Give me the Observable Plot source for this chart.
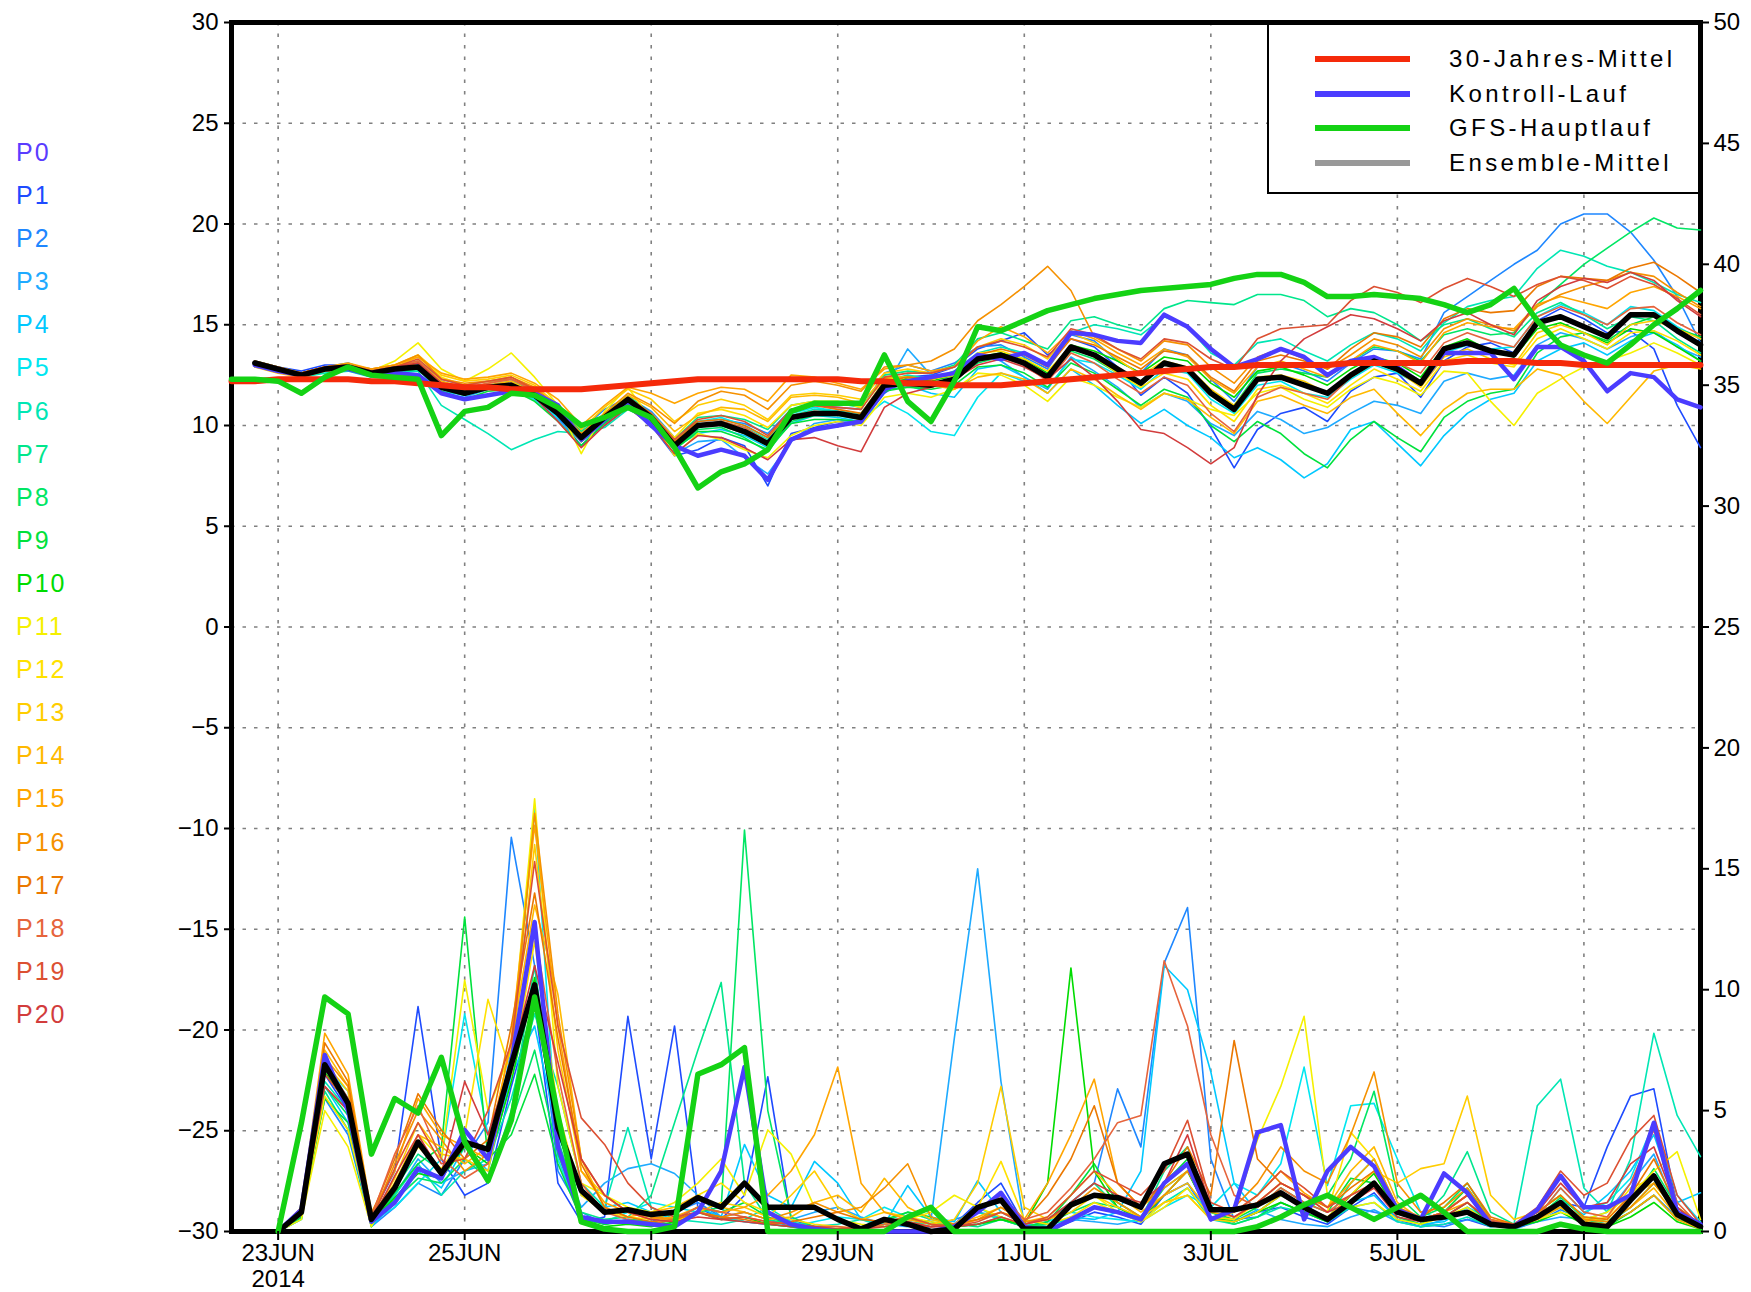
<!DOCTYPE html>
<html><head><meta charset="utf-8">
<script src="https://cdn.jsdelivr.net/npm/d3@7"></script>
<script src="https://cdn.jsdelivr.net/npm/@observablehq/plot@0.6"></script>
<style>
body{margin:0;background:#fff;}
#wrap{position:relative;width:1751px;height:1292px;overflow:hidden;font-family:"Liberation Sans",Arial,sans-serif;background:#fff;}
#plabels{position:absolute;left:16px;top:131px;}
#plabels div{height:43.1px;line-height:43.1px;font-size:25px;letter-spacing:2px;}
#legend{position:absolute;left:1267px;top:23px;width:431px;height:171px;border:2px solid #000;border-right:none;background:#fff;box-sizing:border-box;}
#legend .row{position:absolute;left:0;height:30px;}
#legend .sw{position:absolute;left:46px;width:95px;height:6px;top:12px;}
#legend .tx{position:absolute;left:180px;top:0;line-height:30px;font-size:24px;letter-spacing:3.4px;white-space:nowrap;color:#000;}
</style></head>
<body>
<div id="wrap"><div id="chart"></div><div id="plabels"></div><div id="legend"></div></div>
<script>
// ---------- axis ticks ----------
const xTickDays = [0, 2, 4, 6, 8, 10, 12, 14];
const xTickLabels = ["23JUN\n2014", "25JUN", "27JUN", "29JUN", "1JUL", "3JUL", "5JUL", "7JUL"];
const leftTicks = [-30, -25, -20, -15, -10, -5, 0, 5, 10, 15, 20, 25, 30];
const gridYTicks = [-25, -20, -15, -10, -5, 0, 5, 10, 15, 20, 25];
const rightTicks = [0, 5, 10, 15, 20, 25, 30, 35, 40, 45, 50];

// ---------- legend ----------
const legendLabels = ["30-Jahres-Mittel", "Kontroll-Lauf", "GFS-Hauptlauf", "Ensemble-Mittel"];
const legendColors = ["#f52a0a", "#4b3cff", "#14d214", "#999999"];

// ---------- members ----------
const memberNames = ["P1","P2","P3","P4","P5","P6","P7","P8","P9","P10","P11","P12","P13","P14","P15","P16","P17","P18","P19","P20"];
const memberColors = ["#1e4bff","#1e87ff","#1eaaff","#00c8ff","#00e6f0","#00e6b4","#00e68c","#00e664","#00e13c","#00dc00",
  "#f5f000","#ffe100","#ffcd00","#ffb900","#ffa500","#f59100","#eb7800","#e6643c","#dc5032","#d23c3c"];
const labelNames = ["P0", ...memberNames];
const labelColors = ["#5a3cff", ...memberColors];

// ---------- temperature (6-hourly) ----------
// climatology and GFS main run: from 22JUN 12z
const climTemp = [
  12.2,12.2,12.3,12.3,12.3,12.3,12.2,12.2,
  12.1,12.0,11.9,11.9,11.8,11.8,11.8,11.8,
  11.9,12.0,12.1,12.2,12.3,12.3,12.3,12.3,
  12.3,12.3,12.3,12.2,12.2,12.1,12.1,12.0,
  12.0,12.0,12.1,12.2,12.3,12.4,12.5,12.6,
  12.7,12.8,12.9,12.9,13.0,13.0,13.0,13.0,
  13.1,13.1,13.1,13.1,13.1,13.2,13.2,13.2,
  13.1,13.1,13.0,13.0,13.0,13.0,13.0,13.0];
const gfsTemp = [
  12.3,12.3,12.2,11.6,12.4,12.9,12.5,12.4,
  12.3,9.5,10.7,10.9,11.6,11.5,10.9,10.0,
  10.4,10.9,10.4,8.9,6.9,7.7,8.1,8.8,
  10.7,11.1,11.1,11.1,13.5,11.2,10.2,12.2,
  14.9,14.7,15.2,15.7,16.0,16.3,16.5,16.7,
  16.8,16.9,17.0,17.3,17.5,17.5,17.1,16.4,
  16.4,16.5,16.4,16.3,16.0,15.6,16.0,16.8,
  15.2,14.0,13.5,13.1,14.0,15.0,15.8,16.7];
// ensemble mean, control and members: from 22JUN 18z
const meanTemp = [
  13.1,12.8,12.5,12.8,12.9,12.6,12.8,12.9,
  11.9,11.6,11.9,12.0,11.5,10.6,9.4,10.4,
  11.3,10.4,9.0,10.0,10.1,9.7,9.1,10.4,
  10.6,10.6,10.4,12.0,12.1,12.0,12.3,13.3,
  13.5,13.1,12.4,13.9,13.5,12.8,12.1,13.1,
  12.8,11.6,10.8,12.3,12.4,12.0,11.6,12.5,
  13.2,12.8,12.1,13.8,14.1,13.7,13.5,15.1,
  15.4,14.9,14.4,15.5,15.5,14.7,14.0];
const ctrlTemp = [
  13.0,12.7,12.5,12.8,12.8,12.5,12.6,12.5,
  11.6,11.3,11.5,11.7,11.6,11.0,9.3,10.3,
  11.1,10.0,9.0,8.5,8.8,8.5,7.3,9.3,
  9.8,10.0,10.2,11.8,12.2,12.4,12.6,13.5,
  13.3,13.6,13.0,14.6,14.5,14.2,14.1,15.5,
  14.9,13.8,12.9,13.3,13.8,13.4,12.5,13.2,
  13.4,12.9,12.1,13.6,13.6,13.6,12.3,13.9,
  13.9,13.2,11.7,12.6,12.4,11.3,10.9];
const memberTemp = [
 [13.2,12.9,12.7,13.0,13.0,12.8,12.9,13.0, 12.2,11.8,12.0,12.1,11.6,10.4,9.0,10.1, 11.0,10.0,8.5,8.8,9.4,9.0,7.0,9.6, 9.9,10.2,10.1,11.6,12.4,12.5,12.9,13.8, 14.2,14.6,13.5,14.3,13.9,12.9,11.5,12.4, 11.6,9.9,7.9,9.8,10.6,10.9,10.2,11.7, 12.4,12.6,11.4,13.2,13.9,14.1,13.6,15.2, 15.8,15.3,14.6,14.7,13.8,11.0,8.9],
 [13.0,12.8,12.6,12.9,13.1,12.7,12.9,13.2, 12.3,12.0,12.2,12.3,11.8,10.9,9.8,10.8, 11.4,10.7,9.4,10.2,10.3,10.1,9.6,10.8, 11.0,10.9,10.8,12.6,13.0,12.7,13.1,13.9, 14.0,13.4,12.8,14.5,14.2,13.2,12.6,13.8, 13.5,12.3,11.2,12.9,13.1,12.7,12.2,13.1, 13.8,13.7,13.3,15.6,16.4,17.2,18.0,18.7, 20.0,20.5,20.5,19.6,18.2,16.4,14.1],
 [12.9,12.7,12.4,12.7,12.8,12.5,12.6,12.8, 11.6,11.4,11.8,11.9,11.3,10.3,9.2,10.0, 10.9,10.0,8.6,9.2,9.3,8.4,7.6,9.2, 10.1,10.3,10.1,11.8,13.8,12.5,12.2,13.6, 13.2,12.4,11.8,13.4,12.7,11.9,10.9,11.6, 11.2,10.1,9.5,10.7,10.3,9.6,9.9,10.6, 11.2,11.0,10.6,12.2,12.6,12.3,12.5,14.0, 14.6,14.3,13.8,14.4,14.7,13.9,13.4],
 [13.1,12.8,12.6,12.9,12.9,12.6,12.7,12.9, 12.0,11.7,11.9,12.1,11.4,10.5,9.3,10.3, 11.2,10.2,8.9,9.6,9.8,9.5,8.9,10.1, 10.5,10.4,10.2,11.9,12.0,11.6,11.4,12.8, 13.0,12.4,11.6,12.8,12.0,11.0,10.1,10.8, 10.0,9.4,8.4,8.9,8.3,7.4,8.1,9.8, 10.2,9.1,8.0,9.5,10.6,11.3,11.6,13.2, 13.8,14.1,13.5,14.2,14.6,14.0,13.2],
 [13.0,12.7,12.5,12.8,12.8,12.5,12.7,12.8, 11.7,11.5,11.8,11.8,11.3,10.4,9.5,10.5, 11.1,10.5,9.3,10.2,10.4,10.0,9.4,10.6, 10.9,10.7,10.3,11.2,10.6,9.7,9.5,11.4, 12.6,12.2,11.9,13.3,13.1,12.5,11.8,12.8, 12.6,11.3,10.6,12.0,12.2,11.6,11.4,12.3, 13.0,12.6,12.0,13.6,14.0,13.8,13.9,15.4, 16.0,15.6,15.0,15.9,15.7,14.9,14.3],
 [13.0,12.7,12.4,12.6,12.7,12.4,12.6,12.7, 11.0,10.3,9.6,8.8,9.3,9.7,9.6,9.9, 10.8,10.2,9.0,9.9,10.2,9.9,9.3,10.5, 10.8,10.7,10.6,12.2,12.5,12.3,12.7,13.6, 13.9,13.6,13.0,14.6,15.0,14.8,14.5,15.4, 14.9,13.6,13.0,14.1,14.3,13.7,13.2,14.0, 14.6,14.3,13.7,15.1,15.9,16.2,16.4,17.8, 18.7,18.4,17.9,17.6,17.1,16.5,16.1],
 [13.2,12.9,12.6,12.9,13.0,12.7,12.9,13.1, 12.1,11.8,12.0,12.2,11.7,10.9,9.7,10.6, 11.5,10.6,9.3,10.4,10.5,10.3,9.8,11.0, 11.2,11.1,10.9,12.5,12.7,12.6,13.0,14.3, 14.6,14.2,13.8,15.2,15.4,15.0,14.7,15.8, 16.2,16.1,16.0,16.5,16.5,16.2,15.4,15.8, 15.6,15.0,14.2,15.0,15.3,14.8,14.4,15.6, 16.1,15.5,14.8,15.4,15.2,14.3,13.6],
 [13.0,12.7,12.5,12.8,12.9,12.6,12.7,12.8, 11.8,11.5,11.9,12.0,11.4,10.5,9.2,10.2, 11.0,10.2,8.8,9.8,9.9,9.4,8.7,10.2, 10.5,10.5,10.3,11.8,11.9,11.9,12.3,13.1, 13.4,13.0,12.3,13.7,13.3,12.6,12.0,13.0, 12.7,11.6,11.0,12.6,12.8,12.6,12.4,13.2, 13.9,13.7,13.2,14.5,14.8,14.5,14.6,16.0, 17.0,18.0,18.8,19.6,20.3,19.8,19.7],
 [13.1,12.8,12.5,12.7,12.8,12.5,12.7,12.8, 11.7,11.3,11.7,11.8,11.2,10.2,9.0,10.1, 11.0,10.1,8.8,9.7,9.7,9.3,8.8,10.1, 10.3,10.3,10.2,11.7,11.9,11.8,12.0,12.9, 13.0,12.6,11.9,13.1,12.6,11.8,11.0,11.8, 11.4,10.0,9.2,10.2,9.6,8.6,7.9,9.3, 10.2,9.4,8.7,10.4,11.2,11.6,11.8,13.6, 14.4,14.6,14.2,15.0,15.4,14.8,14.4],
 [13.1,12.8,12.5,12.8,12.9,12.6,12.8,12.9, 12.0,11.7,11.9,12.0,11.6,10.7,9.5,10.5, 11.3,10.4,9.1,10.1,10.0,9.6,9.0,10.4, 10.6,10.6,10.5,12.1,12.3,12.2,12.5,13.4, 13.6,13.3,12.6,14.0,13.7,13.2,12.6,13.4, 13.2,12.1,11.4,12.7,12.9,12.5,12.0,12.8, 13.4,13.1,12.4,13.9,14.3,13.7,13.4,14.8, 15.1,14.6,14.1,14.8,14.6,13.9,13.2],
 [13.2,12.9,12.6,12.9,13.0,12.7,13.2,14.1, 12.8,12.2,12.8,13.6,12.4,11.0,8.6,10.7, 11.9,10.3,8.5,9.6,9.3,8.8,8.4,9.5, 10.0,10.2,10.0,11.4,11.6,11.4,11.8,12.6, 12.5,12.0,11.2,12.4,12.0,11.4,10.9,11.6, 11.3,10.8,10.5,11.6,11.9,11.3,10.9,11.8, 12.4,12.1,11.5,12.7,12.6,11.2,10.0,11.6, 12.3,12.9,13.2,13.6,14.1,13.6,13.0],
 [13.0,12.7,12.5,12.8,12.9,12.7,12.9,13.4, 12.4,12.0,12.2,12.4,11.8,10.8,9.3,10.4, 11.3,10.6,9.4,10.6,10.8,10.5,9.9,11.0, 11.2,11.2,10.9,12.3,12.4,12.3,12.5,13.6, 13.7,13.3,12.7,13.9,13.4,12.6,11.9,12.6, 12.3,11.0,10.2,11.8,12.0,11.6,11.1,12.0, 12.8,12.3,11.7,13.2,13.5,13.1,12.9,14.3, 14.8,14.3,13.8,14.6,14.7,14.2,13.5],
 [13.1,12.8,12.6,12.9,13.0,12.8,13.0,13.5, 12.5,12.2,12.3,12.5,12.0,11.0,9.8,10.9, 11.8,11.3,10.2,11.0,11.3,11.0,10.3,11.5, 11.6,11.5,11.3,12.6,12.8,12.6,12.9,13.9, 14.3,14.0,13.3,14.6,14.1,13.3,12.5,13.2, 12.9,11.8,11.0,12.4,12.5,12.2,11.6,12.4, 13.1,12.7,11.9,13.4,13.8,13.3,13.0,14.6, 15.0,14.6,14.0,15.0,15.2,14.8,14.3],
 [12.9,12.6,12.4,12.7,12.8,12.6,12.8,13.2, 12.2,11.9,12.0,12.2,11.6,10.6,9.4,10.5, 11.5,10.9,9.7,10.5,10.9,10.8,10.2,11.4, 11.5,11.4,11.1,12.4,12.4,12.0,11.8,12.4, 12.6,12.3,11.6,12.8,12.3,11.5,10.8,11.6, 11.3,10.4,9.6,11.2,11.5,11.0,10.6,11.4, 11.8,10.6,9.5,10.8,11.6,11.8,11.8,12.8, 12.5,11.2,10.1,11.4,12.7,13.0,12.8],
 [13.0,12.8,12.6,12.9,13.1,12.8,13.0,13.4, 12.6,12.3,12.4,12.6,12.1,11.3,10.0,11.0, 11.9,11.6,11.1,11.6,11.9,11.8,11.2,12.5, 12.4,12.1,11.8,12.8,13.0,12.7,12.9,14.2, 14.9,14.4,13.6,14.7,14.3,13.6,13.0,13.8, 13.4,12.3,11.6,12.9,13.2,12.8,12.4,13.2, 14.0,13.7,13.1,14.6,15.1,14.9,14.8,16.0, 16.4,16.1,15.8,16.6,16.9,16.4,15.8],
 [13.1,12.8,12.6,12.9,13.0,12.8,13.0,13.5, 12.3,12.1,12.2,12.4,11.9,10.9,9.6,10.6, 11.6,11.0,10.1,11.2,11.7,11.5,10.8,12.0, 12.2,12.0,11.7,12.9,13.0,13.2,13.8,15.2, 16.0,16.9,17.9,16.7,14.4,13.8,13.2,14.2, 14.0,12.9,12.1,13.4,13.8,13.3,12.8,13.5, 14.3,14.0,13.4,14.8,15.3,15.0,14.7,15.9, 16.5,16.9,17.2,17.6,17.4,16.6,15.9],
 [13.0,12.7,12.5,12.8,12.9,12.6,12.8,13.1, 12.0,11.8,12.1,12.3,11.8,10.8,9.5,10.5, 11.4,10.5,9.2,10.2,10.3,10.0,9.4,10.7, 11.0,10.8,10.6,12.2,12.4,12.3,12.6,13.5, 13.8,13.5,12.9,14.3,14.0,13.4,12.8,13.7, 13.5,12.4,11.7,13.2,13.5,13.2,12.8,13.8, 14.6,14.4,13.9,15.3,15.8,15.6,15.7,16.9, 17.4,17.3,17.2,17.8,18.1,17.4,16.6],
 [13.1,12.8,12.5,12.8,12.9,12.7,12.9,13.2, 12.1,11.9,12.1,12.3,11.7,10.6,9.2,10.3, 11.2,10.4,9.0,10.0,10.2,9.9,9.2,10.5, 10.7,10.6,10.3,11.9,12.0,11.9,12.2,13.2, 13.4,13.0,12.2,13.6,13.1,12.3,11.6,12.4, 12.0,10.6,9.7,11.4,11.9,11.6,11.3,12.4, 13.3,13.1,12.6,14.1,14.6,14.2,13.9,15.4, 15.9,15.5,15.0,15.8,15.9,15.1,14.5],
 [13.0,12.8,12.6,12.9,13.0,12.7,12.9,13.3, 12.3,12.0,12.2,12.4,11.8,10.7,9.3,10.4, 11.4,10.6,9.3,10.3,10.5,10.2,9.5,10.8, 11.0,10.9,10.8,12.4,12.6,12.6,12.9,13.9, 14.2,13.9,13.4,14.8,14.5,13.8,13.3,14.3, 14.1,13.3,12.8,14.3,14.8,14.9,15.0,16.2, 16.9,16.6,16.1,16.8,17.3,16.9,16.4,17.0, 17.4,17.2,16.8,17.4,17.0,16.3,15.5],
 [13.2,12.9,12.6,12.9,13.0,12.7,12.9,13.1, 12.1,11.8,12.0,12.1,11.4,10.2,8.9,10.0, 10.9,10.0,8.6,9.5,9.4,8.9,8.3,9.3, 9.4,9.0,8.7,10.9,11.6,11.9,12.3,13.0, 13.3,12.9,12.3,13.3,12.4,11.2,9.8,9.6, 8.9,8.1,8.9,11.5,13.2,14.3,14.9,15.5, 15.3,14.8,14.2,15.2,15.6,15.0,14.5,16.2, 16.9,17.3,17.1,17.6,17.2,16.2,15.4]
];

// ---------- precipitation (mm / 6h, right axis), from 23JUN 00z ----------
const meanPrecip = [
  0.0,0.8,6.9,5.3,0.5,1.8,3.7,2.4, 3.7,3.4,6.9,10.2,4.3,1.7,0.8,0.9,
  0.7,0.8,1.4,1.0,2.0,1.0,1.0,1.0, 0.5,0.1,0.5,0.3,0.0,0.1,1.0,1.3,
  0.1,0.1,1.1,1.5,1.4,1.0,2.8,3.2, 0.9,0.9,1.1,1.6,1.0,0.5,1.2,2.0,
  0.8,0.5,0.6,0.8,0.3,0.2,0.6,1.2, 0.3,0.2,1.3,2.3,0.7,0.2];
const gfsPrecip = [
  0.0,4.5,9.7,9.0,3.2,5.5,4.9,7.2, 3.7,2.1,4.6,9.7,4.8,0.4,0.1,0.0,
  0.0,0.2,6.5,6.9,7.6,0.0,0.0,0.0, 0.0,0.0,0.0,0.6,1.0,0.0,0.0,0.0,
  0.0,0.0,0.0,0.0,0.0,0.0,0.0,0.0, 0.0,0.0,0.2,0.6,1.1,1.5,1.0,0.5,
  1.0,1.5,0.8,0.0,0.0,0.0,0.0,0.3, 0.1,0.0,0.0,0.0,0.0,0.0];
const ctrlPrecip = [
  0.0,0.9,7.3,5.0,0.4,1.2,2.6,2.2, 4.2,3.0,7.0,12.8,3.5,0.6,0.4,0.4,
  0.3,0.2,0.8,2.5,6.8,0.8,0.3,0.1, 0.0,0.0,0.0,0.0,0.0,0.2,0.8,1.6,
  0.2,0.0,0.5,1.0,0.8,0.5,2.0,2.8, 0.5,0.9,4.1,4.4,0.5,2.5,3.5,2.7,
  0.9,0.5,2.4,1.6,0.3,0.2,0.9,2.3, 1.0,1.0,1.5,4.5,0.8,0.3];
const memberPrecip = [
 [0,0.6,6.5,5.0,0.6,2.5,9.3,3.0, 1.5,2.0,6.0,9.5,2.0,0.4,0.6,8.9, 3.0,8.5,1.0,0.5,1.5,6.4,0.5,0.2, 0,0,0,0,0,0.3,1.2,2.0, 0.3,0,0.4,0.8,0.6,0.3,1.5,2.0, 0.5,0.4,0.8,1.0,0.6,0.3,1.0,1.6, 0.5,0.2,0.3,0.5,0.2,0.3,0.8,1.2, 1.0,3.5,5.6,5.9,1.0,0.2],
 [0,0.9,5.5,4.0,0.2,1.0,2.0,1.5, 3.0,4.5,16.3,11.0,2.5,0.8,0.3,0.5, 0.4,0.8,1.2,0.6,0.8,0.5,0.2,0, 0,0,0,0,0.2,0.5,0.8,0.6, 0.2,0.4,1.2,2.0,5.9,3.5,11.1,13.4, 3.0,0.5,0.6,1.2,0.8,0.4,1.0,0.8, 0.6,0.3,0.2,0.5,0.3,0.1,0.4,0.9, 0.5,0.3,0.8,1.5,0.6,0.1],
 [0,0.7,7.0,5.5,0.3,1.5,3.0,2.0, 2.5,2.8,7.5,10.0,3.5,1.0,2.0,2.6, 2.8,2.4,1.5,0.6,0.4,0.3,0.5,0.8, 1.0,0.6,0.3,0.2,0.5,8.0,15.0,6.2, 0.3,0.1,0.5,0.4,0.3,0.5,1.5,2.0, 0.6,0.4,0.9,0.5,0.3,0.2,0.6,0.9, 0.4,0.2,0.5,0.8,0.3,0.2,0.4,0.6, 0.5,0.8,2.0,3.2,0.8,0.2],
 [0,0.5,6.0,4.5,0.2,1.2,2.5,1.8, 3.5,2.5,6.5,8.5,4.0,1.5,1.0,1.2, 0.8,0.5,1.0,0.6,3.6,1.5,1.0,2.9, 2.0,0.5,0.3,1.9,0.6,0.4,2.1,0.8, 0.3,0.2,0.6,0.5,0.8,2.5,11.0,10.0, 6.6,2.0,0.8,1.5,1.0,0.6,1.2,1.5, 0.5,0.3,0.4,1.0,0.5,0.2,0.6,1.3, 0.7,1.5,2.5,4.0,1.2,1.6],
 [0,0.6,6.8,5.8,0.4,1.0,2.0,3.0, 9.0,4.0,7.0,17.5,3.0,0.5,0.4,0.8, 1.2,1.0,0.8,0.6,0.4,0.3,0.2,0.4, 0.6,0.5,1.0,0.6,0.3,0.2,1.0,0.5, 0.2,0.4,0.8,0.6,0.5,0.4,1.0,1.5, 1.0,2.0,1.5,2.8,6.8,1.9,5.2,5.3, 3.0,0.8,0.5,1.0,0.4,0.3,0.6,1.8, 0.8,1.2,2.2,4.5,1.5,0.4],
 [0,0.8,6.2,5.0,0.3,1.5,2.8,1.5, 2.5,3.0,5.5,9.0,6.0,2.0,1.0,4.3, 1.0,0.5,0.4,0.3,0.5,1.0,0.4,0.2, 0.3,0.5,0.2,0.4,0.3,0.2,0.8,0.5, 0.2,0.3,0.5,1.0,0.8,0.4,1.2,1.8, 0.5,0.3,0.6,1.0,0.8,0.4,1.0,1.2, 0.4,0.2,0.3,0.6,0.2,0.3,5.2,6.3, 1.8,0.8,3.0,8.2,4.8,3.1],
 [0,0.5,5.8,4.2,0.2,1.8,3.2,2.5, 4.0,2.0,5.0,11.0,3.8,0.8,0.5,0.6, 1.5,4.5,7.5,10.3,2.0,0.5,0.3,0.1, 0,0.2,0.4,0.8,0.5,0.3,0.2,0.5, 0.3,0.5,1.2,2.0,1.0,0.5,2.5,3.5, 0.8,0.4,0.8,1.5,1.0,0.5,2.0,3.0, 1.0,0.5,1.5,3.3,0.8,0.3,0.8,1.5, 0.5,0.3,1.0,2.0,0.8,0.3],
 [0,0.7,6.0,4.8,0.5,1.3,2.2,2.0, 3.0,2.2,4.5,7.5,3.2,0.6,0.3,0.5, 0.4,0.3,0.8,1.0,16.6,5.0,0.6,0.2, 0,0.1,0.3,0.5,0.4,0.2,0.3,0.6, 0.2,0.3,0.8,1.2,1.0,0.5,1.8,2.5, 0.6,0.3,0.6,1.2,0.8,1.5,3.0,5.8, 1.5,0.6,1.0,2.0,0.5,0.2,0.6,1.4, 0.6,0.4,1.2,2.6,1.0,0.3],
 [0,0.6,5.5,4.5,0.3,1.6,2.8,3.5, 13.0,3.0,4.0,6.5,2.8,0.5,0.3,0.4, 0.3,0.5,1.0,0.8,1.2,0.6,0.3,0.2, 0,0.2,0.5,0.8,0.6,0.2,0.3,0.5, 0.2,0.4,1.5,2.8,1.2,0.6,2.0,3.0, 0.8,0.5,1.0,1.8,1.2,0.8,2.2,2.0, 0.6,0.3,0.8,1.8,0.4,0.2,0.5,1.0, 0.3,0.2,0.8,1.5,0.5,0.2],
 [0,0.8,6.6,5.2,0.4,1.4,2.4,2.2, 3.5,2.8,6.2,10.5,3.6,0.5,0.2,0.3, 0.2,0.4,0.8,0.5,0.6,0.3,0.2,0.1, 0,0.2,0.4,0.6,0.3,0.2,0.3,0.5, 0.3,2.0,10.9,2.5,1.0,0.5,1.5,2.5, 0.6,0.4,0.8,1.2,0.8,0.4,1.5,2.4, 0.8,0.4,0.6,1.2,0.3,0.2,0.4,0.8, 0.3,0.2,0.6,1.2,0.4,0.1],
 [0,0.5,5.0,3.5,0.2,2.0,4.0,3.0, 10.4,5.0,7.5,17.9,6.0,2.0,1.5,1.0, 0.8,1.2,2.0,3.0,1.5,4.2,3.2,1.0, 0.5,0.3,0.2,0.5,0.8,1.5,1.0,0.6, 0.3,0.5,1.0,1.5,0.8,0.4,1.2,1.5, 0.5,0.8,3.8,6.0,8.9,1.5,1.0,1.2, 0.5,0.3,0.6,1.0,0.3,0.2,0.5,0.8, 0.5,0.8,1.5,2.5,3.3,0.5],
 [0,0.7,5.6,4.2,0.4,1.8,3.5,2.6, 4.0,9.6,6.5,12.0,5.0,1.5,0.8,0.6, 0.5,0.8,1.5,2.0,1.2,0.8,0.5,0.3, 0.2,0.1,0.3,0.6,0.4,0.3,1.0,2.9, 0.5,0.3,0.6,1.2,0.8,0.4,1.0,1.8, 0.6,0.5,1.2,2.0,1.5,0.8,4.1,3.0, 1.0,0.5,0.8,1.5,0.4,0.2,0.6,1.0, 0.4,0.6,1.8,2.2,1.0,0.3],
 [0,0.9,7.0,5.8,0.5,2.2,4.5,3.2, 3.0,2.5,7.0,16.0,7.5,2.5,1.5,0.8, 0.6,0.4,0.8,1.2,1.0,0.6,1.5,2.5, 1.0,0.5,0.8,0.6,0.3,0.5,2.0,6.0, 1.0,0.5,0.8,1.5,1.0,0.6,1.2,1.5, 0.5,0.4,0.8,1.5,1.0,0.6,1.5,2.5, 2.0,2.6,2.8,5.6,1.5,0.5,0.8,1.5, 0.6,0.5,1.5,2.0,0.8,0.3],
 [0,0.8,7.5,6.0,0.6,2.0,4.0,3.5, 2.8,3.5,7.8,13.5,9.8,3.0,1.0,0.6, 0.8,1.0,1.5,1.0,0.8,0.5,0.6,1.2, 1.5,0.8,2.2,1.0,0.5,0.3,0.6,1.0, 0.4,0.6,1.5,2.5,1.5,0.8,1.5,2.0, 0.8,0.6,1.2,2.0,1.5,1.0,2.5,3.5, 1.2,0.5,0.8,1.5,0.5,0.3,0.8,1.2, 0.5,0.4,1.0,1.8,0.6,0.2],
 [0,1.0,8.2,6.5,0.8,2.5,5.5,4.0, 3.5,3.0,8.0,16.8,8.5,2.5,1.2,0.8, 0.5,0.6,1.0,0.8,1.0,1.5,2.5,4.0, 6.8,2.0,0.8,0.5,0.3,0.2,0.5,0.8, 0.5,2.0,4.0,6.3,2.0,1.0,1.8,2.5, 1.0,0.8,1.5,2.5,1.6,1.0,2.0,3.0, 1.0,0.5,0.8,1.2,0.4,0.2,0.5,1.0, 0.4,0.3,0.8,1.5,0.5,0.1],
 [0,0.8,7.2,6.0,0.5,2.8,5.0,3.8, 2.5,3.2,7.2,17.3,9.0,3.0,1.5,0.8, 0.6,0.5,0.8,0.6,0.8,0.5,0.8,1.2, 0.8,1.0,1.8,2.8,0.6,0.3,0.5,1.0, 0.4,0.5,1.0,1.8,1.2,0.6,1.5,2.5, 0.8,1.0,2.0,3.5,2.5,2.0,4.0,6.6, 2.0,0.8,1.0,1.8,0.5,0.3,0.6,1.2, 0.5,0.4,1.0,2.0,0.8,0.2],
 [0,0.9,7.8,6.2,0.7,3.0,5.7,4.2, 3.0,3.8,8.5,14.0,8.0,2.8,1.0,0.6, 0.4,0.5,0.8,0.6,0.5,0.3,0.4,0.6, 0.8,0.5,0.4,0.3,0.2,0.3,0.5,0.8, 0.4,1.5,3.0,5.2,2.0,1.0,2.0,3.5, 1.5,7.9,3.0,2.0,1.5,1.0,1.8,2.5, 1.0,0.6,1.2,2.0,0.6,0.3,0.8,1.5, 0.6,0.5,1.5,3.0,1.0,0.3],
 [0,0.8,7.0,5.5,0.6,3.2,5.2,3.0, 2.2,2.8,6.8,12.5,6.5,2.0,0.8,0.5, 0.3,0.5,1.0,0.8,0.6,0.4,0.3,0.2, 0.2,0.1,0.3,0.4,0.2,0.3,0.8,1.5, 0.5,0.8,1.8,3.0,4.5,4.8,11.2,8.5, 4.0,1.5,1.0,1.8,1.2,0.8,1.5,2.0, 0.8,0.5,0.8,1.5,0.5,0.2,0.6,1.8, 0.8,0.6,2.0,4.2,1.2,0.2],
 [0,0.8,6.5,5.3,0.5,2.6,4.5,2.8, 3.0,5.0,7.8,15.3,8.5,4.7,3.6,2.0, 1.0,0.6,0.8,0.5,0.6,0.4,0.3,0.2, 0.1,0.2,0.4,0.6,0.3,0.2,0.4,0.8, 0.3,0.6,1.5,2.5,2.0,1.5,2.5,4.6, 1.2,0.8,1.5,2.5,1.8,1.0,1.5,2.0, 0.8,0.5,0.8,1.5,0.4,0.3,1.0,2.5, 1.5,2.0,3.8,4.8,1.5,0.3],
 [0,0.7,6.0,5.0,0.4,2.3,4.0,2.4, 6.2,4.0,7.0,11.0,7.0,3.0,1.5,0.8, 0.5,0.4,0.6,0.5,0.4,0.3,0.2,0.2, 0.1,0.1,0.2,0.4,0.2,0.2,0.3,0.6, 0.3,0.5,1.2,2.0,1.5,1.2,2.0,4.0, 1.0,0.6,1.2,2.0,1.5,0.8,1.2,1.8, 0.6,0.4,0.6,1.2,0.4,0.2,0.8,2.0, 1.0,1.2,2.8,3.5,1.0,0.2]
];

// ---------- time bases (6-hourly, days since 23JUN 00z) ----------
const tRef = d3.range(64).map(i => -0.5 + i * 0.25);
const tTemp = d3.range(63).map(i => -0.25 + i * 0.25);
const tPrecip = d3.range(62).map(i => i * 0.25);

// precipitation (0..50, right axis) shares the frame with temperature (-30..30)
const toLeft = p => -30 + p * 60 / 50;
const rows = (vals, ts, f = v => v) => vals.map((v, i) => ({t: ts[i], v: f(v)}));

const gridStyle = {stroke: "#808080", strokeOpacity: 1, strokeWidth: 1.6, strokeDasharray: "3.5,8"};

const marks = [
  Plot.gridY(gridYTicks, gridStyle),
  Plot.gridX(xTickDays, gridStyle),
  Plot.frame({stroke: "#000", strokeWidth: 5}),
];
memberTemp.forEach((vals, m) => {
  marks.push(Plot.line(rows(vals, tTemp), {x: "t", y: "v", stroke: memberColors[m], strokeWidth: 1.6}));
});
memberPrecip.forEach((vals, m) => {
  marks.push(Plot.line(rows(vals, tPrecip, toLeft), {x: "t", y: "v", stroke: memberColors[m], strokeWidth: 1.6}));
});
marks.push(
  Plot.line(rows(ctrlTemp, tTemp), {x: "t", y: "v", stroke: legendColors[1], strokeWidth: 4.5}),
  Plot.line(rows(ctrlPrecip, tPrecip, toLeft), {x: "t", y: "v", stroke: legendColors[1], strokeWidth: 4.5}),
  Plot.line(rows(meanTemp, tTemp), {x: "t", y: "v", stroke: "#000", strokeWidth: 5.5}),
  Plot.line(rows(meanPrecip, tPrecip, toLeft), {x: "t", y: "v", stroke: "#000", strokeWidth: 5.5}),
  Plot.line(rows(climTemp, tRef), {x: "t", y: "v", stroke: legendColors[0], strokeWidth: 6}),
  Plot.line(rows(gfsTemp, tRef), {x: "t", y: "v", stroke: legendColors[2], strokeWidth: 5.5}),
  Plot.line(rows(gfsPrecip, tPrecip, toLeft), {x: "t", y: "v", stroke: legendColors[2], strokeWidth: 5.5}),
  Plot.axisY(leftTicks, {anchor: "left", tickSize: 7, tickPadding: 6, strokeWidth: 2, fontSize: 24, label: null}),
  Plot.axisY(rightTicks.map(toLeft), {anchor: "right", tickSize: 8, tickPadding: 5, strokeWidth: 2, fontSize: 24, label: null,
    tickFormat: v => String(rightTicks[rightTicks.map(toLeft).indexOf(v)])}),
  Plot.axisX(xTickDays, {anchor: "bottom", tickSize: 9, tickPadding: 3, strokeWidth: 2, fontSize: 24, lineHeight: 1.05, label: null,
    tickFormat: d => xTickLabels[xTickDays.indexOf(d)]})
);

const chart = Plot.plot({
  width: 1751, height: 1292,
  marginLeft: 231, marginRight: 51, marginTop: 22, marginBottom: 61,
  x: {type: "linear", domain: [-0.5, 15.25], label: null},
  y: {type: "linear", domain: [-30, 30], label: null},
  style: {fontFamily: "'Liberation Sans', Arial, sans-serif", fontSize: "24px", color: "#000", background: "transparent", overflow: "visible"},
  marks
});
document.getElementById("chart").appendChild(chart);

// member labels at left
const pl = document.getElementById("plabels");
labelNames.forEach((n, i) => {
  const d = document.createElement("div");
  d.textContent = n; d.style.color = labelColors[i];
  pl.appendChild(d);
});
// legend box
const lg = document.getElementById("legend");
legendLabels.forEach((n, i) => {
  const r = document.createElement("div");
  r.className = "row"; r.style.top = (19 + i * 34.7) + "px";
  const sw = document.createElement("div"); sw.className = "sw"; sw.style.background = legendColors[i];
  const tx = document.createElement("div"); tx.className = "tx"; tx.textContent = n;
  r.appendChild(sw); r.appendChild(tx); lg.appendChild(r);
});
</script>
</body></html>
